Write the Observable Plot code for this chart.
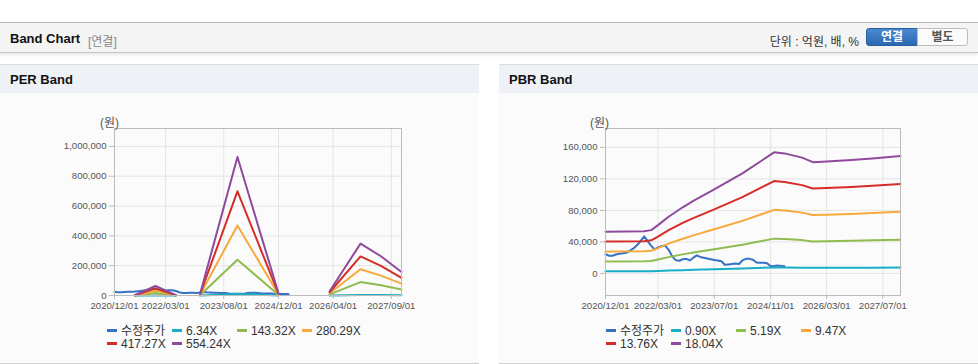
<!DOCTYPE html>
<html><head><meta charset="utf-8">
<script src="https://cdn.jsdelivr.net/npm/d3@7"></script>
<script src="https://cdn.jsdelivr.net/npm/@observablehq/plot@0.6"></script>
<style>
body{margin:0;width:978px;height:364px;overflow:hidden;background:#fff;font-family:"Liberation Sans","Noto Sans CJK KR",sans-serif;position:relative}
.hdr{position:absolute;left:0;top:22px;width:978px;height:29px;background:#f4f4f4;border-top:1px solid #b6b6b6;border-bottom:1px solid #c2c2c2;box-shadow:0 2px 3px rgba(0,0,0,0.10)}
.hdr .t{position:absolute;left:10px;top:8px;font-weight:bold;font-size:13px;color:#111}
.hdr .s{position:absolute;left:88px;top:9px;font-size:12px;color:#888}
.hdr .u{position:absolute;right:119px;top:9px;font-size:12px;color:#333}
.btn{position:absolute;top:5px;height:18px;line-height:17px;font-size:12px;font-weight:bold;text-align:center;box-sizing:border-box}
.b1{left:866px;width:52px;background:linear-gradient(#4a8ad0,#2a68b2);color:#fff;border:1px solid #2a5f9e;border-radius:3px 0 0 3px}
.b2{left:917px;width:51px;background:#fbfbfb;color:#555;border:1px solid #bdbdbd;border-radius:0 3px 3px 0}
.panel{position:absolute;top:64px;width:479px;height:298px;background:#fbfbfb;border-top:1px solid #dcdcdc;border-bottom:1px solid #cfcfcf}
.ptitle{height:28px;background:#eef2f7;font-weight:bold;font-size:13px;line-height:29px;padding-left:10px;color:#111}
.chart{position:absolute;left:0;top:35px}
.legend{position:absolute;left:107px;top:260px;font-size:12px;color:#333;width:300px}
.row{height:13px;line-height:13px;white-space:nowrap}
.item{display:inline-block;width:65px;vertical-align:top}
.sw{display:inline-block;width:10px;height:3px;vertical-align:middle;margin-right:4px;position:relative;top:-1px}
</style></head>
<body>
<div class="hdr"><span class="t">Band Chart</span><span class="s">[연결]</span><span class="u">단위 : 억원, 배, %</span>
<div class="btn b1">연결</div><div class="btn b2">별도</div></div>
<div class="panel" style="left:0"><div class="ptitle">PER Band</div><div class="chart" id="per"></div><div class="legend" id="perLeg"></div></div>
<div class="panel" style="left:499px"><div class="ptitle">PBR Band</div><div class="chart" id="pbr"></div><div class="legend" id="pbrLeg"></div></div>
<script>
// ---- data ----
const seriesColors = ["#3572c4", "#17aec6", "#8fbb4f", "#f7a93b", "#d42d27", "#8f4a9c"];
const perLabels = ["수정주가", "6.34X", "143.32X", "280.29X", "417.27X", "554.24X"];
const pbrLabels = ["수정주가", "0.90X", "5.19X", "9.47X", "13.76X", "18.04X"];

const priceDates = ["2020-12","2021-01","2021-02","2021-03","2021-04","2021-05","2021-06","2021-07","2021-08","2021-09","2021-10","2021-11",
  "2021-12","2022-01","2022-02","2022-03","2022-04","2022-05","2022-06","2022-07","2022-08","2022-09","2022-10","2022-11",
  "2022-12","2023-01","2023-02","2023-03","2023-04","2023-05","2023-06","2023-07","2023-08","2023-09","2023-10","2023-11",
  "2023-12","2024-01","2024-02","2024-03","2024-04","2024-05","2024-06","2024-07","2024-08","2024-09","2024-10","2024-11",
  "2024-12","2025-01","2025-02","2025-03"];
const priceValues = [24500,22500,22500,24000,25000,25500,26300,29000,31800,36000,41000,47000,
  41000,35000,30500,33000,34500,35500,30000,22000,16900,16100,18000,18500,
  16500,20000,23000,21000,20000,19000,18000,17000,16500,15500,11000,11500,
  12000,12500,12000,16500,18500,18500,17500,14000,13500,13500,13000,9000,
  9500,10000,9500,9000];

// PER band (null = negative EPS, no band)
const perBandDates = ["2021-06","2021-12","2022-06","2022-09","2023-01","2023-12","2024-12","2025-08","2026-03","2026-12","2027-06","2027-12"];
const per634   = [19, 729, 25, null, 76, 10620, 159, null, 330, 3982, 3012, 1807];
const per14332 = [430, 16482, 573, null, 1720, 240061, 3583, null, 7453, 90005, 68077, 40846];
const per28029 = [841, 32233, 1121, null, 3363, 469486, 7007, null, 14575, 176022, 133138, 79883];
const per41727 = [1252, 47986, 1669, null, 5007, 698927, 10432, null, 21698, 262046, 198203, 118922];
const per55424 = [1663, 63738, 2217, null, 6651, 928352, 13856, null, 28820, 348063, 263264, 157958];

// PBR band
const pbrBandDates = ["2020-12","2021-11","2022-01","2022-03","2022-06","2022-10","2023-01","2023-07","2024-03","2024-12","2025-03","2025-08","2025-11","2026-03","2026-10","2027-04","2027-12"];
const pbr090  = [2700, 2700, 2800, 3100, 3600, 4200, 4600, 5300, 6300, 7700, 7600, 7300, 7100, 7100, 7200, 7300, 7500];
const pbr519  = [15300, 15400, 15800, 17600, 20700, 24200, 26500, 30700, 36500, 44200, 43800, 42300, 40700, 40900, 41400, 42000, 42900];
const pbr947  = [27800, 28100, 28900, 32200, 37800, 44100, 48300, 56000, 66700, 80700, 80000, 77200, 74200, 74600, 75600, 76600, 78200];
const pbr1376 = [40400, 40800, 42000, 46800, 54900, 64100, 70200, 81400, 96900, 117200, 116200, 112100, 107800, 108500, 109800, 111400, 113600];
const pbr1804 = [53000, 53500, 55000, 61300, 72000, 84000, 92000, 106700, 127000, 153700, 152400, 147000, 141300, 142200, 144000, 146000, 149000];

const xDomain = ["2020-12-01", "2027-12-01"];
const perXTicks = ["2020-12-01","2022-03-01","2023-08-01","2024-12-01","2026-04-01","2027-09-01"];
const pbrXTicks = ["2020-12-01","2022-03-01","2023-07-01","2024-11-01","2026-03-01","2027-07-01"];
const perYTicks = [0, 200000, 400000, 600000, 800000, 1000000];
const pbrYTicks = [0, 40000, 80000, 120000, 160000];
const perYDomain = [0, 1120000];
const pbrYDomain = [-28000, 184000];
const unitLabel = "(원)";

// ---- build ----
const pm = d3.utcParse("%Y-%m"), pd = d3.utcParse("%Y-%m-%d");
const fmt = d3.utcFormat("%Y/%m/%d");
const priceData = priceDates.map((d, i) => ({date: pm(d), v: priceValues[i]}));
function bandData(dates, vals) { return dates.map((d, i) => ({date: pm(d), v: vals[i]})); }

function makeChart(el, bands, bandDates, xTicks, yTicks, yDomain, marginLeft, labelDx) {
  const xt = xTicks.map(pd);
  const marks = [
    Plot.gridX(xt, {stroke: "#e4e4e4", strokeOpacity: 1}),
    Plot.gridY(yTicks, {stroke: "#e4e4e4", strokeOpacity: 1}),
    Plot.line(priceData, {x: "date", y: "v", stroke: seriesColors[0], strokeWidth: 2})
  ];
  bands.forEach((b, i) => marks.push(Plot.line(bandData(bandDates, b), {x: "date", y: "v", stroke: seriesColors[i + 1], strokeWidth: 2})));
  marks.push(
    Plot.frame({stroke: "#bcbcbc"}),
    Plot.axisX(xt, {tickFormat: fmt, tickSize: 4, tickPadding: 3, stroke: "#bcbcbc", fill: "#555", fontSize: 9.6, label: null}),
    Plot.axisY(yTicks, {tickFormat: d3.format(","), tickSize: 5, tickPadding: 3, stroke: "#bcbcbc", fill: "#555", fontSize: 9.6, label: null}),
    Plot.text([unitLabel], {frameAnchor: "top-left", dx: labelDx, dy: -10, fontSize: 12, fill: "#555", textAnchor: "middle"})
  );
  const svg = Plot.plot({
    width: 479, height: 225,
    marginLeft, marginRight: 78, marginTop: 28, marginBottom: 30,
    style: {background: "transparent", fontFamily: "'Liberation Sans','Noto Sans CJK KR',sans-serif"},
    x: {type: "utc", domain: xDomain.map(pd)},
    y: {domain: yDomain},
    marks
  });
  document.getElementById(el).appendChild(svg);
}
makeChart("per", [per634, per14332, per28029, per41727, per55424], perBandDates, perXTicks, perYTicks, perYDomain, 114, -5);
makeChart("pbr", [pbr090, pbr519, pbr947, pbr1376, pbr1804], pbrBandDates, pbrXTicks, pbrYTicks, pbrYDomain, 106, -6);

function legend(el, labels) {
  const root = document.getElementById(el);
  [labels.slice(0, 4), labels.slice(4)].forEach((row, r) => {
    const div = document.createElement("div"); div.className = "row";
    row.forEach((lab, j) => {
      const it = document.createElement("span"); it.className = "item";
      const sw = document.createElement("span"); sw.className = "sw"; sw.style.background = seriesColors[r * 4 + j];
      it.appendChild(sw); it.appendChild(document.createTextNode(lab));
      div.appendChild(it);
    });
    root.appendChild(div);
  });
}
legend("perLeg", perLabels);
legend("pbrLeg", pbrLabels);
</script>
</body></html>
